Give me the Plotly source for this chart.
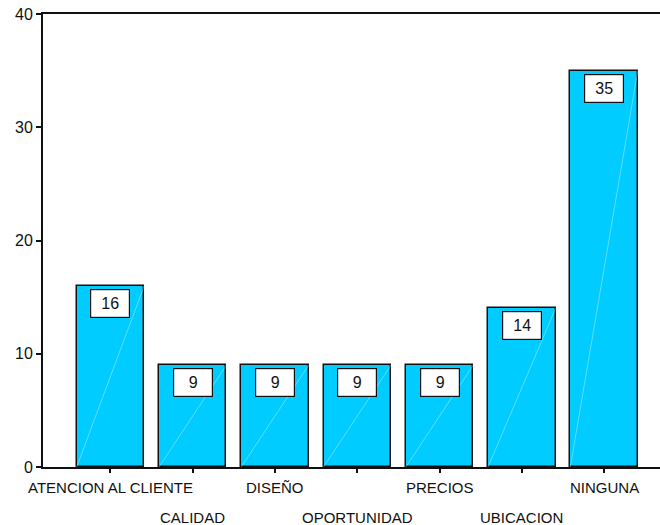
import plotly.graph_objects as go

categories = ["ATENCION AL CLIENTE", "CALIDAD", "DISEÑO", "OPORTUNIDAD",
              "PRECIOS", "UBICACION", "NINGUNA"]
values = [16, 9, 9, 9, 9, 14, 35]
y_ticks = [0, 10, 20, 30, 40]

bar_width = 0.82
x_pos = list(range(len(categories)))
font_family = "Liberation Sans, Arial"

fig = go.Figure()
fig.add_trace(go.Bar(
    x=x_pos, y=values, width=bar_width,
    marker=dict(color="#00CCFF", line=dict(color="#111111", width=1.5)),
    hoverinfo="skip",
))

# faint diagonal sheen across each bar
for xi, v in zip(x_pos, values):
    fig.add_shape(type="line", xref="x", yref="y",
                  x0=xi - bar_width / 2, y0=0, x1=xi + bar_width / 2, y1=v,
                  line=dict(color="rgba(255,255,255,0.35)", width=1))

# boxed value labels at the top of each bar
for xi, v in zip(x_pos, values):
    fig.add_annotation(x=xi, y=v, xref="x", yref="y", text=str(v),
                       showarrow=False, yanchor="top", yshift=-3,
                       font=dict(family=font_family, size=16, color="#111111"),
                       bgcolor="white", bordercolor="#111111", borderwidth=1.2,
                       borderpad=5, width=28)

# category labels staggered over two rows
for xi, name in zip(x_pos, categories):
    fig.add_annotation(x=xi, y=0, xref="x", yref="y", text=name,
                       showarrow=False, yanchor="middle",
                       yshift=-20 if xi % 2 == 0 else -50,
                       font=dict(family=font_family, size=15, color="#111111"))

fig.update_layout(
    width=660, height=525,
    margin=dict(l=43, r=0, t=14, b=58),
    plot_bgcolor="white", paper_bgcolor="white",
    showlegend=False,
    bargap=0,
    xaxis=dict(range=[-0.82, 6.68], tickvals=x_pos, showticklabels=False,
               ticks="outside", ticklen=4, tickcolor="#111111", tickwidth=1.5,
               showline=True, linecolor="#111111", linewidth=2, mirror=True,
               showgrid=False, zeroline=False, fixedrange=True),
    yaxis=dict(range=[0, 40], tickvals=y_ticks,
               ticks="outside", ticklen=5, tickcolor="#111111", tickwidth=1.5,
               showline=True, linecolor="#111111", linewidth=2,
               showgrid=False, zeroline=False,
               tickfont=dict(family=font_family, size=16, color="#111111")),
)

fig.write_html("out.html")
